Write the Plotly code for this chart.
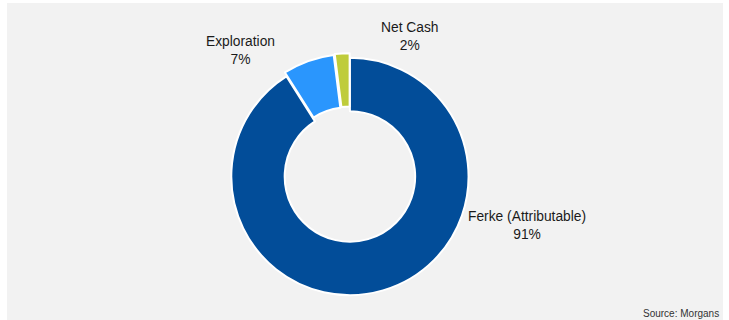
import plotly.graph_objects as go

# Valuation breakdown
labels = ["Ferke (Attributable)", "Exploration", "Net Cash"]
values = [91, 7, 2]
colors = ["#024d99", "#2a96fd", "#bfcc3b"]
pulls = [0, 0.035, 0.04]

W, H = 729, 320

fig = go.Figure()
fig.add_trace(go.Pie(
    labels=labels,
    values=values,
    hole=0.55,
    sort=False,
    direction="clockwise",
    rotation=0,
    pull=pulls,
    textinfo="none",
    hoverinfo="label+percent",
    marker=dict(colors=colors, line=dict(color="white", width=2)),
    domain=dict(x=[0.2, 0.76], y=[0.063, 0.834]),
    showlegend=False,
))

# Outside labels: name on first line, share on second
label_pos = {
    "Exploration": (240, 50),
    "Net Cash": (410, 37),
    "Ferke (Attributable)": (527, 225),
}
total = sum(values)
for name, val in zip(labels, values):
    px, py = label_pos[name]
    fig.add_annotation(
        x=px / W, y=1 - py / H, xref="paper", yref="paper",
        xanchor="center", yanchor="middle",
        text=f"{name}<br>{round(100 * val / total)}%",
        showarrow=False, align="center",
        font=dict(family="Liberation Sans, Arial", size=13.8, color="#1a1a1a"),
    )

fig.add_annotation(
    x=721 / W, y=1 - 313 / H, xref="paper", yref="paper",
    xanchor="right", yanchor="middle",
    text="Source: Morgans", showarrow=False,
    font=dict(family="Liberation Sans, Arial", size=10, color="#333333"),
)

fig.update_layout(
    width=W, height=H,
    margin=dict(l=0, r=0, t=0, b=0),
    paper_bgcolor="white",
    plot_bgcolor="white",
    shapes=[dict(
        type="rect", xref="paper", yref="paper",
        x0=7 / W, x1=723 / W, y0=0, y1=1 - 3 / H,
        fillcolor="#f2f2f2", line=dict(width=0), layer="below",
    )],
)

fig.write_html("out.html")
